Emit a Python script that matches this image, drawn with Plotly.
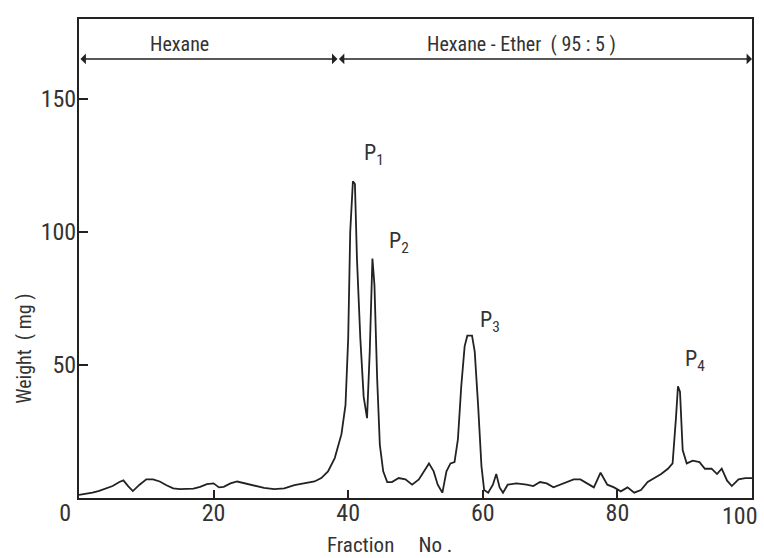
import plotly.graph_objects as go

fraction_no = [0, 1, 2, 3, 4, 5, 6, 6.6, 7.3, 8, 9, 10, 11, 12, 13, 14, 15, 16, 17, 18, 19, 20,
               20.8, 21.5, 22.5, 23.5, 24.5, 26, 27.5, 29, 30.5, 32, 33.5, 35, 36, 37, 38, 39,
               39.6, 40.0, 40.3, 40.7, 41.0, 41.3, 41.8, 42.3, 42.8, 43.2, 43.6, 43.9, 44.3,
               44.7, 45.2, 45.8, 46.5, 47.5, 48.5, 49.5, 50.5, 51.5, 52, 52.7, 53.3, 54, 54.6,
               55.2, 55.8, 56.3, 56.8, 57.3, 57.7, 58.4, 58.8, 59.3, 59.8, 60.2, 60.8, 61.5, 62,
               62.5, 63, 63.7, 65, 66.5, 67.5, 68.5, 69.5, 70.5, 71.5, 72.5, 73.5, 74.5, 75.5,
               76.5, 77.5, 78.5, 79.5, 80.5, 81.5, 82.5, 83.5, 84.5, 85.5, 86.5, 87.5, 88.2,
               88.7, 89.0, 89.3, 89.7, 90.3, 91.2, 92.2, 93, 94, 94.8, 95.5, 96.3, 97, 98, 99, 100]
weight_mg = [1.2, 1.5, 2, 2.7, 3.5, 4.5, 6, 6.6, 4.5, 2.6, 5, 7, 7, 6.2, 4.8, 3.6, 3.3, 3.3, 3.5,
             4.2, 5.2, 5.5, 4, 4.2, 5.5, 6.2, 5.6, 4.8, 3.8, 3.3, 3.6, 4.8, 5.5, 6.2, 7.5, 10, 15,
             24, 35, 60, 100, 119, 118, 90, 60, 38, 30, 55, 90, 80, 45, 20, 10, 6, 6, 7.5, 7, 5,
             7, 11, 13, 10, 5, 2, 10, 13, 13.5, 22, 42, 57, 61, 61, 55, 35, 12, 3, 2, 5, 9, 4, 2,
             5, 5.5, 5, 4.5, 6, 5.5, 4, 5, 6, 7, 7, 5.5, 4, 9.5, 5, 4, 2.5, 4, 2, 3, 6, 7.5, 9,
             11, 13, 30, 42, 40, 18, 13, 14, 13.5, 11, 11, 9, 11, 6.5, 4.5, 7, 7.5, 7.5]

x_ticks = [0, 20, 40, 60, 80, 100]
x_tick_text = ["0&nbsp;&nbsp;&nbsp;&nbsp;&nbsp;", "20", "40", "60", "80", ""]
x_last_label = "100"
y_ticks = [50, 100, 150]
y_tick_text = ["50", "100", "150"]

peak_labels = ["P<sub>1</sub>", "P<sub>2</sub>", "P<sub>3</sub>", "P<sub>4</sub>"]
peak_label_x = [43.9, 47.6, 61.0, 91.5]
peak_label_y = [129, 96, 66.5, 51.5]

solvent_labels = ["Hexane", "Hexane - Ether  ( 95 : 5 )"]
solvent_x = [14.9, 65.8]
solvent_bounds = [0, 38.4, 100]
solvent_y = 165

FONT = "Liberation Sans Narrow, Roboto Condensed, Arial Narrow, Liberation Sans, sans-serif"
INK = "#333333"

fig = go.Figure()
fig.add_trace(go.Scatter(x=fraction_no, y=weight_mg, mode="lines",
                         line=dict(color="#222222", width=1.8), hoverinfo="skip"))

annotations = []
for txt, px, py in zip(peak_labels, peak_label_x, peak_label_y):
    annotations.append(dict(x=px, y=py, xref="x", yref="y", text=txt, showarrow=False,
                            font=dict(family=FONT, size=22, color=INK)))
for txt, sx in zip(solvent_labels, solvent_x):
    annotations.append(dict(x=sx, y=solvent_y + 0.5, xref="x", yref="y", text=txt,
                            showarrow=False, yanchor="bottom", xanchor="center",
                            font=dict(family=FONT, size=20, color=INK)))
for a, b in zip(solvent_bounds[:-1], solvent_bounds[1:]):
    annotations.append(dict(x=b, y=solvent_y, ax=a, ay=solvent_y, xref="x", yref="y",
                            axref="x", ayref="y", text="", showarrow=True,
                            arrowhead=1, startarrowhead=1, arrowside="end+start",
                            arrowsize=1.2, startarrowsize=1.2, arrowwidth=1.5,
                            arrowcolor="#222222"))
annotations.append(dict(x=-0.083, y=0.312, xref="paper", yref="paper", text="Weight  ( mg )",
                        textangle=-90, showarrow=False, xanchor="center", yanchor="middle",
                        font=dict(family=FONT, size=20, color=INK)))
annotations.append(dict(x=0.461, y=-0.098, xref="paper", yref="paper",
                        text="Fraction     No .", showarrow=False, yanchor="middle",
                        xanchor="center",
                        font=dict(family=FONT, size=21, color=INK)))
annotations.append(dict(x=1.0125, y=-0.037, xref="paper", yref="paper", text=x_last_label,
                        showarrow=False, xanchor="right", yanchor="middle",
                        font=dict(family=FONT, size=24, color=INK)))

fig.update_layout(
    width=764, height=558,
    margin=dict(l=79, r=12, t=19, b=60, autoexpand=False),
    paper_bgcolor="white", plot_bgcolor="white",
    showlegend=False,
    annotations=annotations,
    font=dict(family=FONT, size=24, color=INK),
)
fig.update_xaxes(range=[0, 100], tickvals=x_ticks, ticktext=x_tick_text, automargin=False,
                 ticks="inside", ticklen=8, tickwidth=1.8, tickcolor="#222222",
                 ticklabelstandoff=-8, ticklabeloverflow="allow",
                 showline=True, linecolor="#222222", linewidth=2, mirror=True,
                 showgrid=False, zeroline=False, tickfont=dict(family=FONT, size=24, color=INK))
fig.update_yaxes(range=[0, 180], tickvals=y_ticks, ticktext=y_tick_text, automargin=False,
                 ticks="inside", ticklen=9, tickwidth=1.8, tickcolor="#222222",
                 ticklabelstandoff=-4, ticklabeloverflow="allow",
                 showline=True, linecolor="#222222", linewidth=2, mirror=True,
                 showgrid=False, zeroline=False, tickfont=dict(family=FONT, size=24, color=INK))

fig.write_html("out.html", config={"displayModeBar": False},
               post_script="document.body.style.margin='0';document.body.style.overflow='hidden';")
